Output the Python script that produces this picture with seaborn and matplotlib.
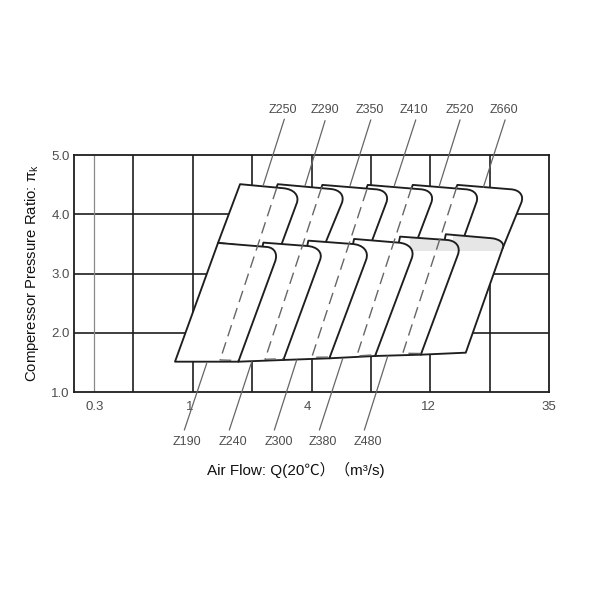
import numpy as np
import pandas as pd
import matplotlib
matplotlib.use("Agg")
import matplotlib.pyplot as plt
from matplotlib.path import Path
from matplotlib.patches import PathPatch
from matplotlib.transforms import ScaledTranslation
import seaborn as sns

# --- axis labels / ticks ---
x_tick_pos = [0.332, 2, 4, 6, 8]
x_tick_labels = ["0.3", "1", "4", "12", "35"]
y_tick_pos = [1, 2, 3, 4, 5]
y_tick_labels = ["1.0", "2.0", "3.0", "4.0", "5.0"]
grid_x = [1, 2, 3, 4, 5, 6, 7]
grid_y = [2, 3, 4]

# --- upper row of envelopes (Z250 ... Z660) ---
upper_names = ["Z250", "Z290", "Z350", "Z410", "Z520", "Z660"]
upper_tl_x = [2.795, 3.429, 4.180, 4.944, 5.702, 6.453]
upper_tl_y = [4.508, 4.508, 4.496, 4.496, 4.496, 4.496]
upper_c1_x = [3.524, 4.310, 5.067, 5.825, 6.582, 7.340]
upper_c1_y = [4.440, 4.428, 4.423, 4.423, 4.423, 4.423]
upper_ct_x = [3.832, 4.596, 5.347, 6.104, 6.862, 7.620]
upper_ct_y = [4.411, 4.411, 4.411, 4.411, 4.411, 4.411]
upper_c2_x = [3.749, 4.507, 5.253, 6.010, 6.768, 7.525]
upper_c2_y = [4.187, 4.187, 4.187, 4.187, 4.187, 4.187]
upper_br_x = [3.458, 4.204, 4.983, 5.757, 6.540, 7.217]
upper_br_y = [3.400, 3.450, 3.467, 3.518, 3.551, 3.433]
upper_bl_x = [2.424, 3.013, 3.805, 4.562, 5.320, 6.027]
upper_bl_y = [3.518, 3.400, 3.450, 3.467, 3.518, 3.551]

# --- lower row of envelopes (Z190 ... Z480, and the last unnamed one) ---
lower_names = ["Z190", "Z240", "Z300", "Z380", "Z480"]
lower_tl_x = [2.424, 3.187, 3.944, 4.714, 5.488, 6.258]
lower_tl_y = [3.518, 3.523, 3.556, 3.585, 3.624, 3.664]
lower_c1_x = [3.244, 3.917, 4.675, 5.460, 6.274, 7.032]
lower_c1_y = [3.450, 3.467, 3.501, 3.523, 3.568, 3.597]
lower_ct_x = [3.468, 4.226, 5.008, 5.774, 6.549, 7.273]
lower_ct_y = [3.433, 3.450, 3.484, 3.501, 3.551, 3.568]
lower_c2_x = [3.384, 4.141, 4.916, 5.685, 6.460, 7.217]
lower_c2_y = [3.202, 3.231, 3.231, 3.260, 3.315, 3.433]
lower_br_x = [2.766, 3.524, 4.298, 5.067, 5.837, 6.594]
lower_br_y = [1.516, 1.545, 1.573, 1.612, 1.634, 1.668]
lower_bl_x = [1.700, 2.766, 3.524, 4.298, 5.067, 5.837]
lower_bl_y = [1.516, 1.516, 1.545, 1.573, 1.612, 1.634]

# --- dashed centre lines ---
dash_top_x = [3.412, 4.170, 4.927, 5.685, 6.443]
dash_top_y = [4.445, 4.462, 4.411, 4.462, 4.462]
dash_bot_x = [2.458, 3.215, 4.002, 4.759, 5.534]
dash_bot_y = [1.545, 1.556, 1.590, 1.612, 1.658]
dash_end_x = [2.76, 3.52, 4.29, 5.06, 5.83]
dash_end_y = [1.535, 1.565, 1.593, 1.632, 1.654]

# --- leader lines and their model labels ---
up_lead_x0 = [3.540, 4.226, 4.995, 5.752, 6.498, 7.256]
up_lead_x1 = [3.187, 3.889, 4.646, 5.392, 6.145, 6.890]
up_lead_y0 = [5.604, 5.580, 5.592, 5.592, 5.592, 5.592]
up_lead_y1 = [4.495, 4.484, 4.484, 4.484, 4.467, 4.457]
up_label_x = [3.524, 4.226, 4.983, 5.729, 6.487, 7.239]
up_label_y = 5.761
lo_lead_x0 = [2.234, 2.992, 3.749, 4.524, 5.281]
lo_lead_x1 = [1.857, 2.614, 3.372, 4.130, 4.887]
lo_lead_y0 = [1.489, 1.516, 1.545, 1.573, 1.612]
lo_lead_y1 = [0.364, 0.364, 0.364, 0.364, 0.364]
lo_label_x = [1.907, 2.682, 3.446, 4.180, 4.944]
lo_label_y = 0.167

# --- pale shaded strips at the top of the last two lower envelopes ---
band_x0 = [5.66, 6.38]
band_x1 = [6.50, 7.28]
band_index = [4, 5]
band_y0 = 3.383
band_y1 = 3.72

x_title = "Air Flow: Q(20℃）（m³/s)"
y_title = r"Comperessor Pressure Ratio: $\mathregular{\pi_k}$"

INK = "#1e1e1e"
GREY = "#666666"
sns.set_theme(style="white")
SANS = ["Liberation Sans", "Noto Sans CJK SC", "DejaVu Sans"]
plt.rcParams["font.family"] = SANS

fig = plt.figure(figsize=(6, 6), dpi=100, facecolor="white")
ax = fig.add_axes([74 / 600, (600 - 392.3) / 600, 475.3 / 600, 237.3 / 600])
ax.set_xlim(0, 8)
ax.set_ylim(1, 5)


def line(xs, ys, z=3, **kw):
    frame = pd.DataFrame({"x": xs, "y": ys})
    sns.lineplot(data=frame, x="x", y="y", ax=ax, sort=False, estimator=None,
                 errorbar=None, legend=False, zorder=z, **kw)


def envelope(tl, c1, ct, c2, br, bl, z, band=None):
    k = 0.58
    h1 = (c1[0] + k * (ct[0] - c1[0]), c1[1] + k * (ct[1] - c1[1]))
    h2 = (c2[0] + k * (ct[0] - c2[0]), c2[1] + k * (ct[1] - c2[1]))
    verts = [tl, c1, h1, h2, c2, br, bl, tl]
    codes = [Path.MOVETO, Path.LINETO, Path.CURVE4, Path.CURVE4, Path.CURVE4,
             Path.LINETO, Path.LINETO, Path.CLOSEPOLY]
    path = Path(verts, codes)
    fill = PathPatch(path, facecolor="white", edgecolor="none", zorder=z)
    ax.add_patch(fill)
    if band is not None:
        strip = ax.fill_between(band[:2], band_y0, band_y1, color="#e6e6e6",
                                lw=0, zorder=z + 0.1)
        strip.set_clip_path(fill)
    ax.add_patch(PathPatch(path, facecolor="none", edgecolor=INK, lw=1.35,
                           joinstyle="round", zorder=z + 0.2))


# grid
for g in grid_x:
    line([g, g], [1, 5], z=1, color=INK, lw=1.2)
for g in grid_y:
    line([0, 8], [g, g], z=1, color=INK, lw=1.2)
line([x_tick_pos[0]] * 2, [1, 5], z=1, color="#8a8a8a", lw=0.9)

# envelopes: earlier models lie over later ones, lower row over upper row
for i in range(len(upper_names) - 1, -1, -1):
    envelope((upper_tl_x[i], upper_tl_y[i]), (upper_c1_x[i], upper_c1_y[i]),
             (upper_ct_x[i], upper_ct_y[i]), (upper_c2_x[i], upper_c2_y[i]),
             (upper_br_x[i], upper_br_y[i]), (upper_bl_x[i], upper_bl_y[i]),
             z=3 + 0.5 * (len(upper_names) - i))
for i in range(len(lower_tl_x) - 1, -1, -1):
    band = None
    if i in band_index:
        k = band_index.index(i)
        band = (band_x0[k], band_x1[k])
    envelope((lower_tl_x[i], lower_tl_y[i]), (lower_c1_x[i], lower_c1_y[i]),
             (lower_ct_x[i], lower_ct_y[i]), (lower_c2_x[i], lower_c2_y[i]),
             (lower_br_x[i], lower_br_y[i]), (lower_bl_x[i], lower_bl_y[i]),
             z=8 + 0.5 * (len(lower_tl_x) - i), band=band)

# dashed centre lines
for i in range(len(dash_top_x)):
    line([dash_top_x[i], dash_bot_x[i], dash_end_x[i]],
         [dash_top_y[i], dash_bot_y[i], dash_end_y[i]], z=14,
         color=GREY, lw=1.0, linestyle=(0, (8.5, 4.5)))

# leaders and labels
for i, name in enumerate(upper_names):
    line([up_lead_x0[i], up_lead_x1[i]], [up_lead_y0[i], up_lead_y1[i]], z=15,
         color=GREY, lw=0.9, clip_on=False)
    ax.text(up_label_x[i], up_label_y, name, ha="center", va="center",
            fontsize=9, color="#4d4d4d", clip_on=False)
for i, name in enumerate(lower_names):
    line([lo_lead_x0[i], lo_lead_x1[i]], [lo_lead_y0[i], lo_lead_y1[i]], z=15,
         color=GREY, lw=0.9, clip_on=False)
    ax.text(lo_label_x[i], lo_label_y, name, ha="center", va="center",
            fontsize=9, color="#4d4d4d", clip_on=False)

# axes furniture
ax.set_xticks(x_tick_pos, x_tick_labels, fontsize=9.5, color="#4d4d4d")
ax.set_yticks(y_tick_pos, y_tick_labels, fontsize=9.5, color="#4d4d4d")
ax.tick_params(axis="both", length=0)
ax.tick_params(axis="x", pad=6)
ax.tick_params(axis="y", pad=3)
for dx, lab in zip([1, -3, -4, -2, 0], ax.get_xticklabels()):
    lab.set_transform(lab.get_transform() + ScaledTranslation(dx / 100, 0, fig.dpi_scale_trans))
for s in ax.spines.values():
    s.set_visible(True)
    s.set_color(INK)
    s.set_linewidth(1.3)
    s.set_zorder(2)
ax.set_xlabel("")
ax.set_ylabel("")
fig.text(296 / 600, 1 - 470 / 600, x_title, ha="center", va="center",
         fontsize=11, color="#111111")
fig.text(32 / 600, 1 - 273 / 600, y_title, rotation=90, ha="center", va="center",
         fontsize=10.7, color="#111111")

fig.savefig("out.png", dpi=100, facecolor="white")
